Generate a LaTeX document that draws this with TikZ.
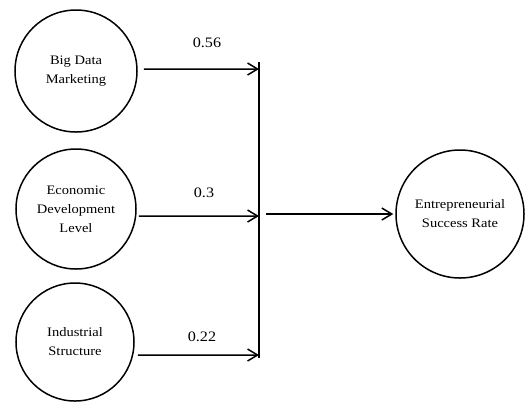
\documentclass[tikz,border=0pt]{standalone}
\usepackage{fontspec}
\setmainfont[FakeStretch=1.12]{Liberation Serif}
\usetikzlibrary{arrows.meta}
\begin{document}
\begin{tikzpicture}[x=1bp,y=-1bp,
  var/.style={circle,draw,line width=1.5bp,inner sep=0pt,align=center,
    font=\fontsize{13}{19}\selectfont},
  link/.style={line width=1.5bp,-{Straight Barb[length=10bp,width=12bp,line width=1.5bp]}},
  bar/.style={line width=1.5bp},
  wt/.style={font=\fontsize{14.5}{16}\selectfont,inner sep=0pt}]
\useasboundingbox (0,0) rectangle (527,403);
\node[var,minimum size=122bp] (bdm) at (76,71) {Big Data\\Marketing};
\node[var,minimum size=120bp] (edl) at (76,209) {Economic\\Development\\Level};
\node[var,minimum size=118bp] (ins) at (75,342) {Industrial\\Structure};
\node[var,minimum size=128bp] (esr) at (460,214) {Entrepreneurial\\Success Rate};
\coordinate (bt) at (259,62);
\coordinate (bb) at (259,358);
\coordinate (j1) at (259,69);
\coordinate (j2) at (259,216);
\coordinate (j3) at (259,355);
\coordinate (o) at (266,214);
\draw[bar] (bt) -- (bb);
\draw[link] ([xshift=6bp,yshift=2bp]bdm.east) -- (j1);
\draw[link] ([xshift=2bp,yshift=-7bp]edl.east) -- (j2);
\draw[link] ([xshift=3bp,yshift=-13bp]ins.east) -- (j3);
\draw[link,shorten >=2bp] (o) -- (esr.west);
\node[wt] (w1) at (207,43) {0.56};
\node[wt] (w2) at (204,193) {0.3};
\node[wt] (w3) at (202,337) {0.22};
\end{tikzpicture}
\end{document}
